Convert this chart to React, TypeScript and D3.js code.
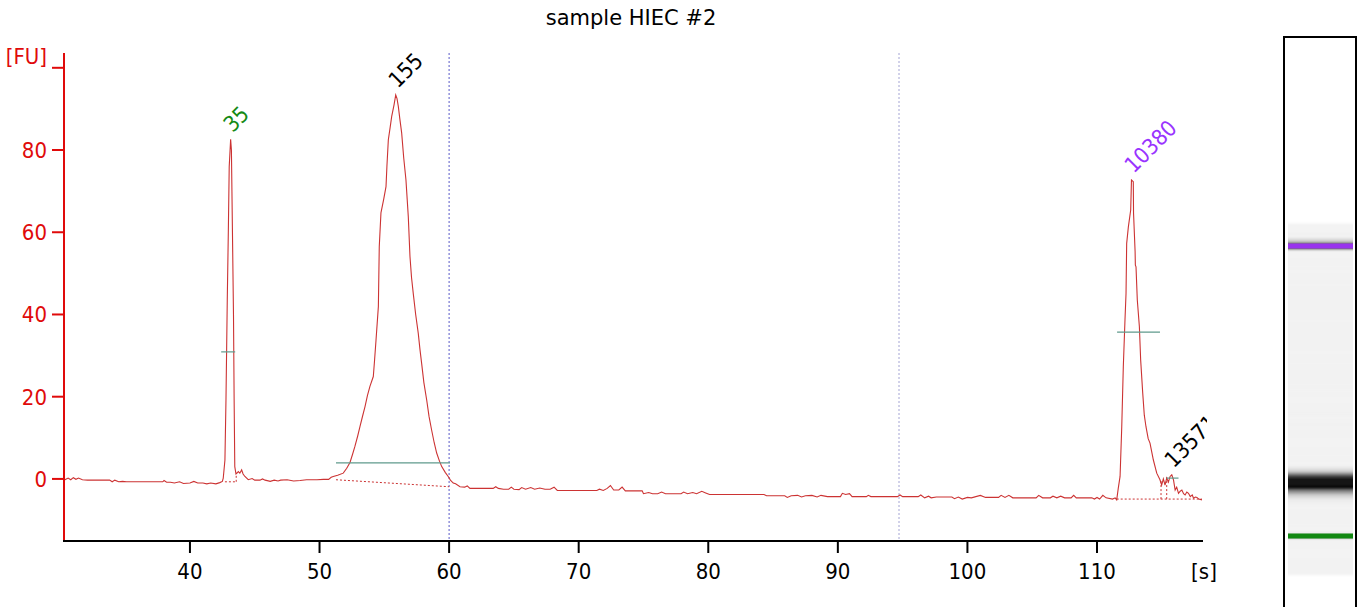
import * as d3 from 'd3'

// electropherogram trace, time [s] and fluorescence [FU]
const TIME = [
  30.28, 30.6, 30.8, 31.0, 31.2, 31.4, 31.7, 32.1, 33.8, 34.0, 34.2, 34.5, 34.8, 35.1, 37.9, 38.0, 38.2, 38.5, 38.8, 39.2,
  39.5, 40.0, 40.3, 40.6, 41.0, 41.3, 41.6, 42.0, 42.3, 42.5,
  42.57, 42.7, 42.78, 42.88, 42.96, 43.03, 43.14, 43.2, 43.24, 43.3, 43.36, 43.41, 43.46, 43.55, 43.65, 43.73, 43.85, 43.99, 44.1, 44.24,
  44.5, 44.8, 45.0, 45.4, 45.6, 45.8, 46.2, 46.5, 46.8, 47.0, 47.5, 48.0, 48.5, 49.0, 49.8, 50.3, 50.7, 50.9,
  51.06, 51.4, 51.83, 52.1, 52.35, 52.55, 52.73, 52.95, 53.12, 53.3, 53.51, 53.7, 53.89, 54.15, 54.25, 54.36, 54.54, 54.61, 54.74, 54.95,
  55.13, 55.2, 55.31, 55.45, 55.57, 55.75, 55.88, 55.98, 56.08, 56.2, 56.34, 56.5, 56.67, 56.85, 56.98, 57.1, 57.23, 57.42, 57.62, 57.75,
  57.88, 58.05, 58.27, 58.45, 58.65, 58.85, 59.04, 59.25, 59.43, 59.7, 59.93, 60.1, 60.32, 60.5, 60.84, 61.2, 61.4, 61.61,
  62.5, 63.0, 63.4, 63.6, 63.8, 64.2, 64.6, 64.8, 65.0, 65.4, 65.6, 65.9, 66.3, 66.6, 67.0, 67.4, 67.8, 68.1, 68.35, 70.0,
  71.4, 71.6, 71.9, 72.2, 72.45, 72.7, 73.1, 73.35, 73.6, 74.9, 75.0, 75.4, 75.7, 76.1, 76.4, 76.7, 77.9, 78.1, 78.4, 78.8,
  79.1, 79.5, 79.8, 80.1, 82.0, 84.3, 84.5, 85.9, 86.1, 86.4, 86.9, 87.2, 87.5, 88.0, 88.4, 88.7, 89.2, 90.2, 90.35, 90.6,
  90.9, 91.1, 92.2, 92.35, 92.55, 94.6, 94.8, 95.0, 96.2, 96.4, 96.7, 97.0, 97.2, 97.6, 98.8, 99.0, 99.3, 99.6, 100.0, 100.3,
  101.0, 101.4, 102.4, 102.6, 102.9, 103.2, 103.5, 105.3, 105.5, 105.8, 106.4, 106.6, 106.9, 107.2, 107.5, 108.0, 108.2, 108.4, 109.6, 109.8,
  110.0, 110.2, 110.45, 110.7, 111.2, 111.4, 111.52, 111.64, 111.78, 111.91, 112.03, 112.16, 112.24, 112.29, 112.42, 112.6, 112.66, 112.8, 112.82, 112.94,
  112.96, 113.01, 113.11, 113.27, 113.37, 113.53, 113.65, 113.78, 113.95, 114.09, 114.35, 114.61, 114.86, 114.99, 115.12, 115.25, 115.38, 115.51, 115.64, 115.77,
  115.9, 116.03, 116.15, 116.29, 116.42, 116.55, 116.68, 116.8, 116.93, 117.06, 117.2, 117.35, 117.45, 117.6, 117.71, 117.85, 118.1,
]
const FU = [
  -0.3, 0.2, -0.2, 0.3, -0.1, 0.2, -0.2, -0.3, -0.3, -0.7, -0.3, -0.7, -0.6, -0.7, -0.7, -0.4, -0.8, -0.8, -1.0, -0.7,
  -1.1, -1.0, -0.6, -1.0, -1.0, -1.2, -1.0, -1.2, -0.9, -0.6,
  0.2, 4.6, 19.2, 43.5, 59.8, 75.9, 82.6, 80.0, 70.0, 55.0, 40.0, 19.2, 3.0, 1.2, 1.5, 1.8, 1.4, 2.2, 1.2, 0.6,
  -0.2, 0.1, -0.3, -0.3, 0.0, -0.3, -0.6, -0.3, -0.5, -0.3, -0.2, -0.5, -0.4, -0.2, -0.2, -0.1, -0.1, 0.4,
  0.6, 0.9, 1.4, 2.6, 4.0, 6.0, 7.9, 10.5, 12.7, 15.0, 17.6, 20.3, 22.5, 24.9, 29.0, 33.8, 41.9, 56.5, 64.7, 68.0,
  71.1, 76.0, 82.5, 85.5, 88.2, 91.0, 93.4, 92.5, 90.6, 87.5, 84.1, 78.0, 72.7, 63.8, 54.1, 49.0, 45.2, 40.0, 35.4, 31.5,
  28.1, 23.5, 19.2, 15.2, 11.9, 8.8, 6.3, 4.4, 3.0, 1.6, 0.6, -0.3, -1.0, -1.2, -1.9, -2.0, -1.7, -2.3,
  -2.3, -2.3, -2.3, -1.9, -2.3, -2.5, -2.5, -2.0, -2.5, -2.6, -2.1, -2.5, -2.1, -2.5, -2.2, -2.5, -2.5, -2.0, -2.8, -2.8,
  -2.8, -2.5, -2.8, -2.3, -1.6, -2.7, -2.7, -2.0, -2.9, -2.9, -3.6, -3.3, -3.6, -3.6, -3.2, -3.6, -3.6, -3.2, -3.6, -3.3,
  -3.6, -3.0, -3.4, -3.8, -3.8, -3.8, -4.1, -4.1, -4.5, -4.1, -4.0, -4.4, -4.1, -4.0, -4.4, -4.0, -4.3, -4.3, -3.5, -3.8,
  -3.6, -4.3, -4.3, -4.0, -4.3, -4.3, -3.9, -4.3, -4.3, -3.9, -4.6, -4.2, -4.6, -4.4, -4.4, -4.8, -4.4, -4.9, -4.5, -4.6,
  -4.0, -4.5, -4.5, -4.0, -4.5, -4.0, -4.6, -4.6, -4.0, -4.6, -4.6, -4.2, -4.6, -4.2, -4.6, -4.6, -4.0, -4.6, -4.6, -4.9,
  -4.5, -4.9, -4.0, -4.6, -4.9, -4.6, -5.1, -2.3, 0.6, 12.7, 27.3, 38.7, 45.1, 57.3, 61.3, 65.4, 72.7, 72.3, 64.6, 55.3,
  52.0, 51.6, 43.5, 37.0, 28.9, 20.8, 15.5, 12.7, 9.8, 8.7, 4.6, 1.4, -0.2, -1.5, 0.0, -1.5, 0.2, -0.8, 0.6, 1.0,
  -0.2, -2.7, -2.0, -3.5, -3.0, -2.7, -3.6, -3.9, -3.2, -3.5, -4.3, -3.9, -4.7, -4.4, -4.5, -4.9, -5.1,
]

// called peaks (size in bp)
const PEAK_SIZE = ['35', '155', '10380', '13571']
const PEAK_TIME = [43.14, 55.88, 112.68, 115.77]
const PEAK_FU = [82.6, 93.4, 72.7, 1.0]

// peak height markers
const MARK_FU = [30.9, 3.9, 35.7, 0.2]
const MARK_T0 = [42.41, 51.27, 111.55, 115.38]
const MARK_T1 = [43.49, 60.07, 114.86, 116.29]

// peak baselines
const BASE_T0 = [42.7, 51.27, 111.52]
const BASE_T1 = [43.57, 60.0, 118.1]
const BASE_FU0 = [-0.7, -0.2, -4.9]
const BASE_FU1 = [-0.7, -1.9, -4.9]
const DROP_T = [43.57, 114.94, 115.38]
const DROP_FU0 = [-0.7, -4.9, -4.9]
const DROP_FU1 = [1.2, -0.2, 0.4]

// region window
const WINDOW_T = [60, 94.72]

const X_TICKS = [40, 50, 60, 70, 80, 90, 100, 110]
const Y_TICKS = [0, 20, 40, 60, 80]

const W = 1361
const H = 607
const FONT = "'DejaVu Sans Condensed', 'DejaVu Sans', sans-serif"
const RED = '#e00a0a'
const TRACE = '#cc3333'
const MARK = '#5f9a8c'
const labelColor: Record<string, string> = { '35': '#148a14', '10380': '#9933ff' }

export default function App(): JSX.Element {
  const x = d3.scaleLinear().domain([30.28, 118.18]).range([64, 1203])
  const y = d3.scaleLinear().domain([-15.1, 103.6]).range([541, 53])

  const pts: [number, number][] = TIME.map((t, i) => [t, FU[i]])
  const line = d3.line<[number, number]>().x(d => x(d[0])).y(d => y(d[1]))

  // gel lane: migration time mapped along the lane
  const gy = d3.scaleLinear().domain([PEAK_TIME[0], PEAK_TIME[2]]).range([536, 246])
  const shade = d3.scaleLinear<string>()
    .domain([0, 15, 40, 60])
    .range(['#f2f2f2', '#bdbdbd', '#222222', '#000000'])
    .clamp(true)
  const gelPts = pts.filter(d => d[0] >= 33.3)
  const gelX0 = 1288
  const gelX1 = 1353

  const [yTop, yBot] = y.range().slice().reverse()

  return (
    <svg width={W} height={H} style={{ position: 'absolute', left: 0, top: 0, display: 'block', background: '#fff' }}>
      <defs>
        <clipPath id="plot">
          <rect x={64} y={0} width={1207 - 64} height={541} />
        </clipPath>
        <filter id="blur" x="-10%" y="-50%" width="120%" height="200%">
          <feGaussianBlur stdDeviation="0 1.2" />
        </filter>
      </defs>

      <text x={631} y={25} textAnchor="middle" fontFamily="'DejaVu Sans', sans-serif" fontSize={21} fill="#000">
        sample HIEC #2
      </text>

      {/* window lines */}
      {WINDOW_T.map((t, i) => (
        <line key={t} x1={x(t)} x2={x(t)} y1={53} y2={541}
          stroke={i === 0 ? '#5a5ac8' : '#a4a4d4'} strokeWidth={1} strokeDasharray="2 2" />
      ))}

      <g clipPath="url(#plot)">
        {/* baselines */}
        {BASE_T0.map((t, i) => (
          <line key={'b' + i} x1={x(t)} x2={x(BASE_T1[i])} y1={y(BASE_FU0[i])} y2={y(BASE_FU1[i])}
            stroke={TRACE} strokeWidth={1} strokeDasharray="2 2" />
        ))}
        {DROP_T.map((t, i) => (
          <line key={'d' + i} x1={x(t)} x2={x(t)} y1={y(DROP_FU0[i])} y2={y(DROP_FU1[i])}
            stroke={TRACE} strokeWidth={1} strokeDasharray="2 2" />
        ))}
        <path d={line(pts) ?? ''} fill="none" stroke={TRACE} strokeWidth={1.1} />
        {MARK_FU.map((v, i) => (
          <line key={'m' + i} x1={x(MARK_T0[i])} x2={x(MARK_T1[i])} y1={y(v)} y2={y(v)}
            stroke={MARK} strokeWidth={1.2} />
        ))}
        {PEAK_SIZE.map((s, i) => {
          const px = x(PEAK_TIME[i]) + 2
          const py = y(PEAK_FU[i]) - 6
          return (
            <text key={s} transform={`translate(${px},${py}) rotate(-45)`}
              fontFamily={FONT} fontSize={22} fill={labelColor[s] ?? '#000'}>
              {s}
            </text>
          )
        })}
      </g>

      {/* y axis */}
      <line x1={64} x2={64} y1={yTop} y2={yBot} stroke={RED} strokeWidth={2} />
      {Y_TICKS.map(v => (
        <g key={v}>
          <line x1={52} x2={64} y1={y(v)} y2={y(v)} stroke={RED} strokeWidth={2} />
          <text x={47} y={y(v) + 8} textAnchor="end" fontFamily={FONT} fontSize={22} fill={RED}>{v}</text>
        </g>
      ))}
      <line x1={52} x2={64} y1={y(100)} y2={y(100)} stroke={RED} strokeWidth={2} />
      <text x={47} y={y(100) - 4} textAnchor="end" fontFamily={FONT} fontSize={22} fill={RED}>[FU]</text>

      {/* x axis */}
      <line x1={63} x2={1203} y1={541} y2={541} stroke="#000" strokeWidth={2} />
      {X_TICKS.map(v => (
        <g key={v}>
          <line x1={x(v)} x2={x(v)} y1={541} y2={553} stroke="#000" strokeWidth={2} />
          <text x={x(v)} y={579} textAnchor="middle" fontFamily={FONT} fontSize={22} fill="#000">{v}</text>
        </g>
      ))}
      <text x={1204} y={579} textAnchor="middle" fontFamily={FONT} fontSize={22} fill="#000">[s]</text>

      {/* gel lane */}
      <rect x={1284} y={37} width={72} height={H} fill="#fff" stroke="#000" strokeWidth={2} />
      <g filter="url(#blur)">
        {gelPts.slice(1).map((d, i) => {
          const prev = gelPts[i]
          const y0 = gy(d[0])
          const y1 = gy(prev[0])
          return (
            <rect key={i} x={gelX0} width={gelX1 - gelX0} y={y0} height={Math.max(0.5, y1 - y0 + 0.3)}
              fill={shade(Math.max(prev[1], d[1]))} />
          )
        })}
      </g>
      <rect x={gelX0} width={gelX1 - gelX0} y={gy(PEAK_TIME[2]) - 2.5} height={5} fill="#9933ee" />
      <rect x={gelX0} width={gelX1 - gelX0} y={gy(PEAK_TIME[0]) - 2.5} height={5} fill="#118811" />
    </svg>
  )
}
